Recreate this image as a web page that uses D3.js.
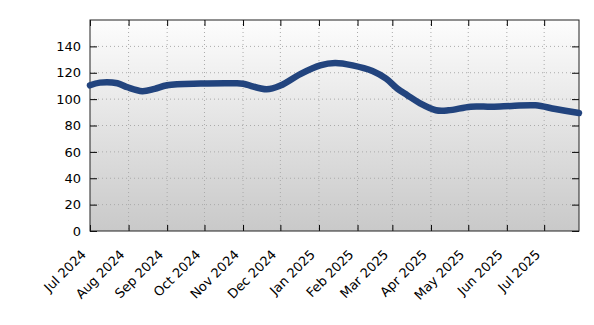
<!DOCTYPE html>
<html>
<head>
<meta charset="utf-8">
<script src="https://cdn.jsdelivr.net/npm/d3@7"></script>
<style>
  body { margin: 0; background: #fff; }
  text { font-family: "DejaVu Sans", sans-serif; }
</style>
</head>
<body>
<div class="chart"></div>
<script>
// data
var dates = ["2024-07-01", "2024-07-09", "2024-07-23", "2024-07-31", "2024-08-12", "2024-08-22",
  "2024-09-01", "2024-09-28", "2024-10-26", "2024-11-01", "2024-11-20", "2024-12-01",
  "2024-12-17", "2025-01-02", "2025-01-14", "2025-01-28", "2025-02-13", "2025-02-24",
  "2025-03-05", "2025-03-13", "2025-03-23", "2025-04-05", "2025-04-15", "2025-05-03",
  "2025-05-20", "2025-06-05", "2025-06-24", "2025-07-10", "2025-07-29"];
var values = [110.5, 112.5, 112, 109, 106, 107.8,
  110.5, 111.8, 112, 111.6, 107.5, 110.3,
  119, 125.6, 127.4, 125.6, 121.3, 115.5,
  108, 103, 97, 91.6, 91.5, 94.3,
  94.2, 94.8, 95.3, 92.5, 89.5];
var yTicks = [0, 20, 40, 60, 80, 100, 120, 140];
var monthTicks = ["2024-07-01", "2024-08-01", "2024-09-01", "2024-10-01", "2024-11-01", "2024-12-01",
  "2025-01-01", "2025-02-01", "2025-03-01", "2025-04-01", "2025-05-01", "2025-06-01", "2025-07-01"];

var parse = d3.timeParse("%Y-%m-%d");
var fmt = d3.timeFormat("%b %Y");

var svgWidth = 594;
var svgHeight = 325;
var margin = { top: 20, right: 15, bottom: 94, left: 90 };
var width = svgWidth - margin.left - margin.right;
var height = svgHeight - margin.top - margin.bottom;

var svg = d3.select(".chart").append("svg")
  .attr("width", svgWidth)
  .attr("height", svgHeight);

// background gradient
var grad = svg.append("defs").append("linearGradient")
  .attr("id", "bg").attr("x1", 0).attr("y1", 0).attr("x2", 0).attr("y2", 1);
grad.append("stop").attr("offset", "0%").attr("stop-color", "#fdfdfd");
grad.append("stop").attr("offset", "100%").attr("stop-color", "#c9c9c9");

var chartGroup = svg.append("g")
  .attr("transform", `translate(${margin.left}, ${margin.top})`);

chartGroup.append("rect")
  .attr("width", width).attr("height", height)
  .attr("fill", "url(#bg)");

var data = dates.map((d, i) => ({ date: parse(d), value: values[i] }));

var x = d3.scaleTime()
  .domain([parse("2024-07-01"), parse("2025-07-29")])
  .range([0, width]);
var y = d3.scaleLinear().domain([0, 160]).range([height, 0]);
var tickDates = monthTicks.map(parse);

// grid
chartGroup.append("g").selectAll("line")
  .data(yTicks.slice(1)).enter().append("line")
  .attr("x1", 0).attr("x2", width)
  .attr("y1", d => y(d)).attr("y2", d => y(d))
  .attr("stroke", "#aaa").attr("stroke-dasharray", "1,3");
chartGroup.append("g").selectAll("line")
  .data(tickDates.slice(1)).enter().append("line")
  .attr("y1", 0).attr("y2", height)
  .attr("x1", d => x(d)).attr("x2", d => x(d))
  .attr("stroke", "#aaa").attr("stroke-dasharray", "1,3");

// axes, ticks inward
var leftAxis = d3.axisLeft(y).tickValues(yTicks).tickSizeInner(-7).tickSizeOuter(0).tickPadding(9);
var rightAxis = d3.axisRight(y).tickValues(yTicks).tickSizeInner(-7).tickSizeOuter(0).tickFormat("");
var bottomAxis = d3.axisBottom(x).tickValues(tickDates).tickSizeInner(-6).tickSizeOuter(0).tickFormat(fmt);
var topAxis = d3.axisTop(x).tickValues(tickDates).tickSizeInner(-6).tickSizeOuter(0).tickFormat("");

chartGroup.append("g").call(leftAxis);
chartGroup.append("g").attr("transform", `translate(${width},0)`).call(rightAxis);
chartGroup.append("g").call(topAxis);
var xg = chartGroup.append("g").attr("transform", `translate(0, ${height})`).call(bottomAxis);
xg.selectAll("text")
  .attr("text-anchor", "end")
  .attr("dy", "0.35em")
  .attr("transform", "translate(-9,19) rotate(-45)");

chartGroup.selectAll(".domain").remove();
chartGroup.selectAll(".tick line").attr("stroke", "#000");
chartGroup.selectAll(".tick text").attr("font-size", "13px").attr("fill", "#000");

// frame
chartGroup.append("rect")
  .attr("width", width).attr("height", height)
  .attr("fill", "none").attr("stroke", "#222").attr("stroke-width", 1);

// line
var line = d3.line()
  .x(d => x(d.date))
  .y(d => y(d.value))
  .curve(d3.curveCatmullRom.alpha(0.5));

chartGroup.append("path")
  .datum(data)
  .attr("fill", "none")
  .attr("stroke", "#22447e")
  .attr("stroke-width", 6.5)
  .attr("stroke-linecap", "round")
  .attr("d", line);
</script>
</body>
</html>
